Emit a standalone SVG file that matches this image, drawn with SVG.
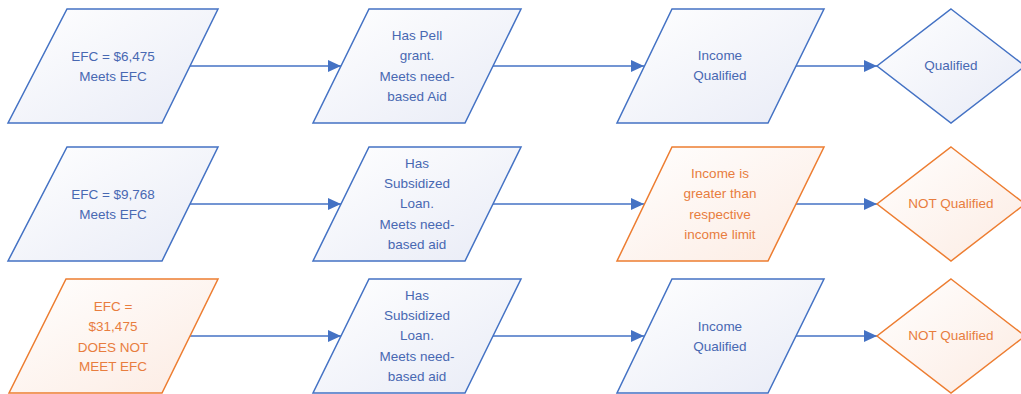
<svg xmlns="http://www.w3.org/2000/svg" width="1021" height="394" viewBox="0 0 1021 394">
<defs>
<linearGradient id="gb" x1="0" y1="0" x2="1" y2="1">
<stop offset="0" stop-color="#ffffff"/><stop offset="1" stop-color="#e8ebf6"/>
</linearGradient>
<linearGradient id="go" x1="0" y1="0" x2="1" y2="1">
<stop offset="0" stop-color="#ffffff"/><stop offset="1" stop-color="#fcebe2"/>
</linearGradient>
<marker id="ah" viewBox="0 0 13 12" refX="13" refY="6" markerWidth="13" markerHeight="12" markerUnits="userSpaceOnUse" orient="auto">
<path d="M0,0 L13,6 L0,12 z" fill="#4472c4"/>
</marker>
<style>
.b{fill:url(#gb);stroke:#4472c4;stroke-width:1.5}
.o{fill:url(#go);stroke:#ed7d31;stroke-width:1.5}
text{font-family:"Liberation Sans",Arial,sans-serif;font-size:13.5px;text-anchor:middle;dominant-baseline:central}
.tb{fill:#4868b2}
.to{fill:#e87d3e}
.c{stroke:#4472c4;stroke-width:1.5;fill:none;marker-end:url(#ah)}
</style>
</defs>
<rect width="1021" height="394" fill="#ffffff"/>
<g id="connectors">
<line class="c" x1="190" y1="66" x2="341" y2="66"/>
<line class="c" x1="493" y1="66" x2="644" y2="66"/>
<line class="c" x1="796" y1="66" x2="877" y2="66"/>
<line class="c" x1="190" y1="204" x2="341" y2="204"/>
<line class="c" x1="493" y1="204" x2="644" y2="204"/>
<line class="c" x1="796" y1="204" x2="877" y2="204"/>
<line class="c" x1="190" y1="336" x2="341" y2="336"/>
<line class="c" x1="493" y1="336" x2="644" y2="336"/>
<line class="c" x1="796" y1="336" x2="877" y2="336"/>
</g>
<g id="n1a">
<polygon class="b" points="67,9 218,9 162,123 8,123"/>
<text class="tb" x="113" y="56">EFC = $6,475</text>
<text class="tb" x="113" y="76">Meets EFC</text>
</g>
<g id="n1b">
<polygon class="b" points="369,9 521,9 465,123 313,123"/>
<text class="tb" x="417" y="35">Has Pell</text>
<text class="tb" x="417" y="55">grant.</text>
<text class="tb" x="417" y="76">Meets need-</text>
<text class="tb" x="417" y="96">based Aid</text>
</g>
<g id="n1c">
<polygon class="b" points="672,9 824,9 768,123 617,123"/>
<text class="tb" x="720" y="55">Income</text>
<text class="tb" x="720" y="75">Qualified</text>
</g>
<g id="n1d">
<polygon class="b" points="951,9 1025,66 951,123 877,66"/>
<text class="tb" x="951" y="65">Qualified</text>
</g>
<g id="n2a">
<polygon class="b" points="67,147 218,147 162,261 8,261"/>
<text class="tb" x="113" y="194">EFC = $9,768</text>
<text class="tb" x="113" y="214">Meets EFC</text>
</g>
<g id="n2b">
<polygon class="b" points="369,147 521,147 465,261 313,261"/>
<text class="tb" x="417" y="163">Has</text>
<text class="tb" x="417" y="183">Subsidized</text>
<text class="tb" x="417" y="203">Loan.</text>
<text class="tb" x="417" y="224">Meets need-</text>
<text class="tb" x="417" y="244">based aid</text>
</g>
<g id="n2c">
<polygon class="o" points="672,147 824,147 768,261 617,261"/>
<text class="to" x="720" y="173">Income is</text>
<text class="to" x="720" y="193">greater than</text>
<text class="to" x="720" y="214">respective</text>
<text class="to" x="720" y="234">income limit</text>
</g>
<g id="n2d">
<polygon class="o" points="951,147 1025,204 951,261 877,204"/>
<text class="to" x="951" y="203">NOT Qualified</text>
</g>
<g id="n3a">
<polygon class="o" points="66,279 218,279 162,393 9,393"/>
<text class="to" x="113" y="306">EFC =</text>
<text class="to" x="113" y="326">$31,475</text>
<text class="to" x="113" y="347">DOES NOT</text>
<text class="to" x="113" y="366">MEET EFC</text>
</g>
<g id="n3b">
<polygon class="b" points="369,279 521,279 465,393 313,393"/>
<text class="tb" x="417" y="295">Has</text>
<text class="tb" x="417" y="315">Subsidized</text>
<text class="tb" x="417" y="335">Loan.</text>
<text class="tb" x="417" y="356">Meets need-</text>
<text class="tb" x="417" y="376">based aid</text>
</g>
<g id="n3c">
<polygon class="b" points="672,279 824,279 768,393 617,393"/>
<text class="tb" x="720" y="326">Income</text>
<text class="tb" x="720" y="346">Qualified</text>
</g>
<g id="n3d">
<polygon class="o" points="951,279 1025,336 951,393 877,336"/>
<text class="to" x="951" y="335">NOT Qualified</text>
</g>
</svg>
